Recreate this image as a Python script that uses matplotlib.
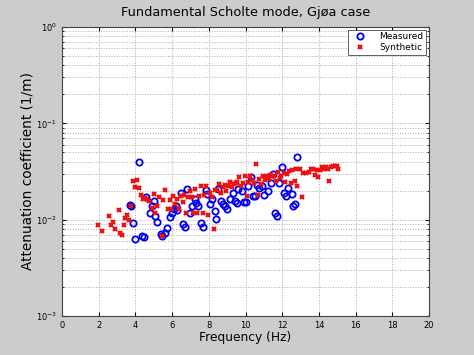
import numpy as np
import matplotlib
matplotlib.use("Agg")
import matplotlib.pyplot as plt
from matplotlib.ticker import LogLocator, NullFormatter

# measured attenuation
f_meas = [4.2, 3.69, 3.78, 3.89, 3.98, 4.33, 4.47, 4.6, 4.78, 4.89, 5.0, 5.09, 5.2, 5.38,
          5.45, 5.6, 5.71, 5.87, 5.98, 6.09, 6.2, 6.29, 6.47, 6.58, 6.69, 6.8, 6.98, 7.09,
          7.22, 7.29, 7.4, 7.58, 7.69, 7.82, 7.91, 8.09, 8.18, 8.31, 8.38, 8.51, 8.67, 8.78,
          8.89, 8.98, 9.18, 9.31, 9.4, 9.51, 9.6, 9.8, 9.89, 10.02, 10.11, 10.29, 10.42,
          10.51, 10.62, 10.71, 10.91, 11.0, 11.2, 11.4, 11.51, 11.58, 11.69, 11.82, 12.0,
          12.11, 12.2, 12.31, 12.51, 12.6, 12.71, 12.8]
a_meas = [0.0394, 0.0142, 0.0138, 0.0093, 0.00634, 0.0067, 0.00665, 0.0172, 0.0116, 0.0139,
          0.0155, 0.011, 0.0095, 0.0071, 0.00676, 0.0073, 0.0081, 0.0106, 0.0117, 0.0128,
          0.0139, 0.0127, 0.0187, 0.009, 0.0083, 0.021, 0.0116, 0.0137, 0.0163, 0.0149,
          0.0137, 0.0092, 0.0083, 0.0201, 0.0184, 0.0147, 0.0163, 0.0123, 0.0102, 0.0207,
          0.0157, 0.0147, 0.0138, 0.013, 0.0162, 0.0191, 0.0157, 0.0148, 0.0207, 0.0196,
          0.0154, 0.0154, 0.0224, 0.0277, 0.0175, 0.0175, 0.0228, 0.0214, 0.0224, 0.0182,
          0.0198, 0.0238, 0.0297, 0.0117, 0.0109, 0.0238, 0.0352, 0.0191, 0.0177, 0.0214,
          0.0184, 0.0138, 0.0146, 0.0451]

# synthetic attenuation
f_syn = [1.98, 2.18, 2.58, 2.69, 2.78, 2.89, 3.09, 3.18, 3.29, 3.4, 3.45, 3.56, 3.64, 3.75,
         3.89, 3.98, 4.09, 4.2, 4.31, 4.4, 4.51, 4.62, 4.73, 4.89, 5.0, 5.09, 5.2, 5.29,
         5.49, 5.42, 5.6, 5.76, 5.87, 5.96, 6.07, 6.16, 6.27, 6.36, 6.47, 6.58, 6.67, 6.76,
         6.87, 6.96, 7.07, 7.16, 7.27, 7.36, 7.47, 7.56, 7.67, 7.76, 7.87, 7.96, 8.07, 8.16,
         8.27, 8.36, 8.47, 8.56, 8.67, 8.76, 8.87, 8.96, 9.07, 9.16, 9.27, 9.36, 9.47, 9.56,
         9.67, 9.76, 9.87, 9.96, 10.07, 10.16, 10.27, 10.36, 10.47, 10.56, 10.67, 10.76,
         10.87, 10.96, 11.07, 11.16, 11.27, 11.36, 11.47, 11.56, 11.67, 11.76, 11.87, 11.96,
         12.07, 12.16, 12.27, 12.36, 12.47, 12.56, 12.67, 12.76, 12.82, 12.96, 13.07, 13.16,
         13.27, 13.47, 13.56, 13.67, 13.76, 13.87, 13.96, 14.07, 14.16, 14.27, 14.36, 14.47,
         14.53, 14.67, 14.76, 14.87, 14.96, 15.04]
a_syn = [0.0088, 0.0077, 0.0108, 0.0089, 0.0095, 0.0079, 0.0127, 0.00726, 0.00692, 0.0088,
         0.0103, 0.0111, 0.0099, 0.014, 0.0251, 0.0217, 0.0257, 0.0212, 0.0181, 0.0162,
         0.0168, 0.0162, 0.0155, 0.0133, 0.0184, 0.0116, 0.0139, 0.017, 0.016, 0.0068,
         0.0201, 0.0129, 0.0159, 0.0128, 0.0174, 0.0146, 0.0162, 0.0129, 0.0174, 0.0154,
         0.0179, 0.0116, 0.017, 0.0196, 0.017, 0.0116, 0.0209, 0.0117, 0.0178, 0.0223,
         0.0116, 0.0179, 0.0224, 0.0113, 0.019, 0.0172, 0.0079, 0.0204, 0.0201, 0.0236,
         0.0188, 0.0217, 0.023, 0.0198, 0.0224, 0.0243, 0.0217, 0.0232, 0.0238, 0.0247,
         0.0279, 0.0221, 0.0241, 0.0286, 0.0178, 0.0245, 0.0281, 0.0255, 0.0238, 0.0375,
         0.0179, 0.0261, 0.0236, 0.0283, 0.0255, 0.0281, 0.0266, 0.0288, 0.0281, 0.0286,
         0.0251, 0.0312, 0.0272, 0.0286, 0.0307, 0.0247, 0.0297, 0.0319, 0.0239, 0.0324,
         0.0251, 0.0332, 0.0223, 0.0332, 0.0171, 0.0304, 0.0302, 0.0309, 0.0338, 0.0335,
         0.029, 0.033, 0.0274, 0.0327, 0.0352, 0.0332, 0.0349, 0.0338, 0.0253, 0.0349,
         0.036, 0.0357, 0.0363, 0.0332]

xticks = np.arange(0, 21, 2)

fig = plt.figure(figsize=(4.74, 3.55), dpi=100, facecolor='#cccccc')
ax = fig.add_axes([0.131, 0.110, 0.774, 0.814])
ax.set_facecolor('white')

ax.plot(f_meas, a_meas, 'o', mfc='none', mec='#0000ee', mew=1.3, ms=4.5, label='Measured')
ax.plot(f_syn, a_syn, 'x', color='#ee1111', mew=1.6, ms=3.5, label='Synthetic')

ax.set_yscale('log')
ax.set_xlim(0, 20)
ax.set_ylim(1e-3, 1)
ax.set_xticks(xticks)
ax.set_xticklabels([str(t) for t in xticks], fontsize=6)
ax.yaxis.set_major_locator(LogLocator(base=10, numticks=5))
ax.yaxis.set_minor_locator(LogLocator(base=10, subs=np.arange(2, 10), numticks=20))
ax.yaxis.set_minor_formatter(NullFormatter())
ax.tick_params(axis='y', which='major', labelsize=6)
ax.tick_params(which='both', direction='in', top=True, right=True)
ax.tick_params(which='major', length=3)
ax.tick_params(which='minor', length=1.5)

ax.grid(True, which='major', linestyle=':', color='#aaaaaa', linewidth=0.7)
ax.grid(True, which='minor', axis='y', linestyle=':', color='#aaaaaa', linewidth=0.7)
for s in ax.spines.values():
    s.set_color('#444444')
    s.set_linewidth(0.8)

ax.set_title('Fundamental Scholte mode, Gjøa case', fontsize=9.3, pad=8)
ax.set_xlabel('Frequency (Hz)', fontsize=8.8, labelpad=1)
ax.set_ylabel('Attenuation coefficient (1/m)', fontsize=9.8)
ax.yaxis.set_label_coords(-0.074, 0.5)

leg = ax.legend(loc='upper right', fontsize=6.5, fancybox=False, framealpha=1,
                edgecolor='#444444', borderaxespad=0.3, handletextpad=1.2,
                borderpad=0.3, labelspacing=0.2)
leg.get_frame().set_linewidth(0.6)

fig.savefig('out.png', dpi=100, facecolor=fig.get_facecolor())
